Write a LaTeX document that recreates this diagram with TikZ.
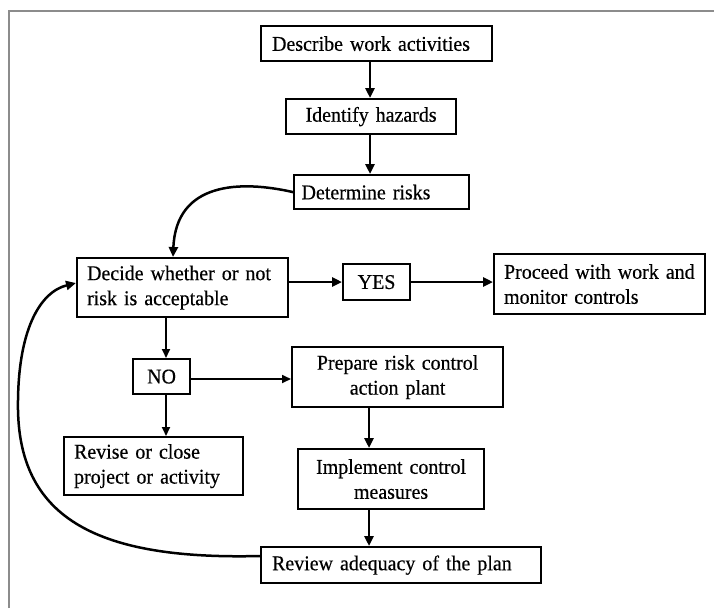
\documentclass[tikz,border=0pt]{standalone}
\usepackage{fontspec}
\setmainfont{Liberation Serif}[FakeStretch=0.95,FakeBold=0.4]
\usetikzlibrary{arrows.meta}
\begin{document}
\begin{tikzpicture}[x=1pt,y=-1pt,
  box/.style={draw, line width=2.2pt, inner ysep=0pt, anchor=north west,
    font=\fontsize{21}{25}\selectfont},
  arr/.style={line width=2.5pt, -{Triangle[length=10pt,width=9pt]}},
  thinarr/.style={line width=1.7pt, -{Triangle[length=9pt,width=8pt]}},
  frameline/.style={draw=black!45, line width=2pt}]
\useasboundingbox (0,0) rectangle (714,608);
\fill[white] (0,0) rectangle (714,608);
% page frame (top and left edges)
\draw[frameline] (9,608) -- (9,11) -- (714,11);

% boxes
\node[box, minimum width=231pt, minimum height=35pt, inner xsep=11pt, text width=209pt, align=left]
  (desc) at (260,25) {Describe work activities};
\node[box, minimum width=170pt, minimum height=35pt, inner xsep=8pt, text width=154pt, align=center]
  (ident) at (285,98) {Identify hazards};
\node[box, minimum width=175pt, minimum height=34pt, inner xsep=7.5pt, text width=160pt, align=left]
  (determ) at (293,174) {Determine risks};
\node[box, minimum width=211pt, minimum height=59pt, inner xsep=10pt, text width=191pt, align=left]
  (decide) at (76,257) {Decide whether or not\\risk is acceptable};
\node[box, minimum width=67pt, minimum height=36pt, inner xsep=4pt, text width=59pt, align=center]
  (yes) at (342,263) {YES};
\node[box, minimum width=211pt, minimum height=60pt, inner xsep=10pt, text width=191pt, align=left]
  (proceed) at (493,253) {Proceed with work and\\monitor controls};
\node[box, minimum width=57pt, minimum height=35pt, inner xsep=4pt, text width=49pt, align=center]
  (no) at (132,358) {NO};
\node[box, minimum width=211pt, minimum height=60pt, inner xsep=10pt, text width=191pt, align=center]
  (prepare) at (291,346) {Prepare risk control\\action plant};
\node[box, minimum width=179pt, minimum height=58pt, inner xsep=10pt, text width=159pt, align=left]
  (revise) at (63,436) {Revise or close\\project or activity};
\node[box, minimum width=186pt, minimum height=60pt, inner xsep=8pt, text width=170pt, align=center]
  (implement) at (297,448) {Implement control\\measures};
\node[box, minimum width=280pt, minimum height=36pt, inner xsep=11pt, text width=258pt, align=left]
  (review) at (260,546) {Review adequacy of the plan};

% guide coordinates for straight connectors
\coordinate (cx) at (370,0);
\coordinate (px) at (369,0);
\coordinate (nx) at (166,0);
\coordinate (dx) at (173,0);
\coordinate (ry) at (0,282);
\coordinate (ny) at (0,379);
\coordinate (ly) at (0,556);
\coordinate (ay) at (0,283);
\coordinate (loop) at (18,410);

% main column
\draw[arr] (desc.south -| cx) -- (ident.north -| cx);
\draw[arr] (ident.south -| cx) -- (determ.north -| cx);
\draw[arr] (determ.west) .. controls (240,180) and (176,182) .. (decide.north -| dx);

% decision branches
\draw[arr] (decide.east |- ry) -- (yes.west |- ry);
\draw[arr, line width=2.8pt] (yes.east |- ry) -- (proceed.west |- ry);
\draw[thinarr] (decide.south -| nx) -- (no.north -| nx);
\draw[thinarr] (no.south -| nx) -- (revise.north -| nx);
\draw[thinarr] (no.east |- ny) -- (prepare.west |- ny);

% control plan column
\draw[arr] (prepare.south -| px) -- (implement.north -| px);
\draw[arr] (implement.south -| px) -- (review.north -| px);

% feedback loop
\draw[arr] (review.west |- ly) .. controls (100,560) and (20,520) .. (loop)
  .. controls (17,330) and (40,292) .. (decide.west |- ay);
\end{tikzpicture}
\end{document}
